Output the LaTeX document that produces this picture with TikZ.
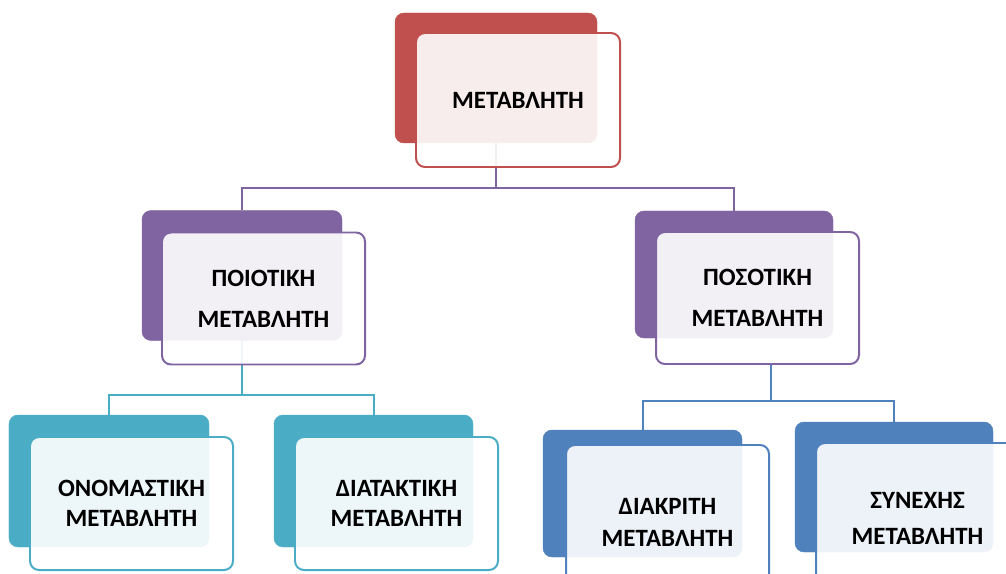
\documentclass[tikz,border=0pt]{standalone}
\usepackage{fontspec}
\setmainfont{Carlito}
\usepackage{tikz}
\usetikzlibrary{positioning,backgrounds}
\usepackage{xcolor}
\definecolor{accred}{RGB}{192,80,77}
\definecolor{accpurple}{RGB}{128,100,162}
\definecolor{accteal}{RGB}{75,172,198}
\definecolor{accblue}{RGB}{79,129,189}
\newcommand{\boxfont}{\fontsize{25}{30}\selectfont\bfseries}

\begin{document}
\begin{tikzpicture}[
    x=1bp, y=-1bp,
    backbox/.style={rectangle, rounded corners=9pt, fill=#1, draw=#1,
                    minimum width=200bp, minimum height=130bp},
    frontbox/.style={rectangle, rounded corners=9pt, draw=#1, line width=2pt,
                     fill=white, fill opacity=0.9, text opacity=1, text=black,
                     minimum width=203bp, minimum height=132bp,
                     font=\boxfont, align=center},
    link/.style={draw=#1, line width=2pt}
]
\useasboundingbox (0,0) rectangle (1006,574);
\clip (0,0) rectangle (1006,574);

% Root
\node[backbox=accred, minimum width=202bp] (varback) at (496,78) {};
\node[frontbox=accred, minimum width=204bp, minimum height=134bp] (var) at (518,100) {ΜΕΤΑΒΛΗΤΗ};

% Second level
\node[backbox=accpurple] (qualback) at (242,275.5) {};
\node[frontbox=accpurple] (qual) at (263.5,298.5) {ΠΟΙΟΤΙΚΗ\\[11bp]ΜΕΤΑΒΛΗΤΗ};
\node[backbox=accpurple, minimum width=198bp, minimum height=127bp] (quantback) at (734,274.5) {};
\node[frontbox=accpurple] (quant) at (757.5,298) {ΠΟΣΟΤΙΚΗ\\[11bp]ΜΕΤΑΒΛΗΤΗ};

% Third level
\node[backbox=accteal, minimum height=132bp] (nomback) at (109,481) {};
\node[frontbox=accteal, minimum height=133bp] (nom) at (131.5,503.5) {ΟΝΟΜΑΣΤΙΚΗ\\ΜΕΤΑΒΛΗΤΗ};
\node[backbox=accteal, minimum width=199bp, minimum height=132bp] (ordback) at (373.5,481) {};
\node[frontbox=accteal, minimum height=133bp] (ord) at (396.5,503.5) {ΔΙΑΤΑΚΤΙΚΗ\\ΜΕΤΑΒΛΗΤΗ};
\node[backbox=accblue, minimum width=199bp, minimum height=127bp] (discback) at (642.5,493.5) {};
\node[frontbox=accblue, minimum height=154bp] (disc) at (667.5,522) {ΔΙΑΚΡΙΤΗ\\[2bp]ΜΕΤΑΒΛΗΤΗ};
\node[backbox=accblue, minimum width=198bp] (contback) at (894,487) {};
\node[frontbox=accblue, minimum height=150bp] (cont) at (917.5,518) {ΣΥΝΕΧΗΣ\\[6bp]ΜΕΤΑΒΛΗΤΗ};

% Connectors
\coordinate (quantdrop) at (771,364);
\begin{scope}[on background layer]
\draw[link=accpurple] (varback.south) -- ++(0,45) -| (qualback.north);
\draw[link=accpurple] (varback.south) -- ++(0,45) -| (quantback.north);
\draw[link=accteal] (qualback.south) -- ++(0,54) -| (nomback.north);
\draw[link=accteal] (qualback.south) -- ++(0,54) -| (ordback.north);
\draw[link=accblue] (quantdrop) -- ++(0,37) -| (discback.north);
\draw[link=accblue] (quantdrop) -- ++(0,37) -| (contback.north);
\end{scope}

\end{tikzpicture}
\end{document}
